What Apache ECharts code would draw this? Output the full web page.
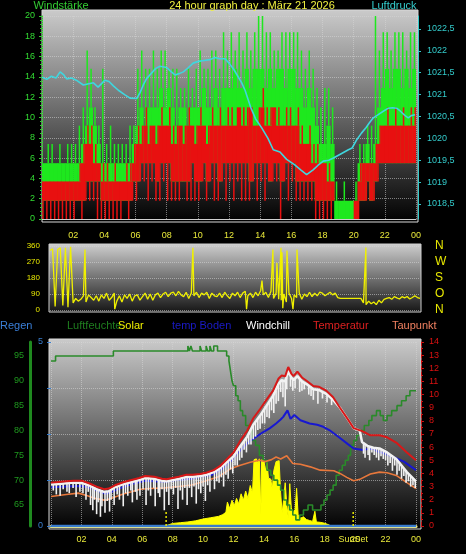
<!DOCTYPE html>
<html><head><meta charset="utf-8">
<script src="https://cdn.jsdelivr.net/npm/echarts@6/dist/echarts.min.js"></script>
<style>html,body{margin:0;padding:0;background:#000;}#c{width:466px;height:554px;}</style>
</head><body><div id="c"></div>
<script>
// ================= DATA =================
const titleText = '24 hour graph day : März 21 2026';
const hourLabels = ['00','02','04','06','08','10','12','14','16','18','20','22','00'];
const dirLetters = ['N','O','S','W','N'];
const pressTicks = [1018.5,1019,1019.5,1020,1020.5,1021,1021.5,1022,1022.5];
const humTicks = [65,70,75,80,85,90,95];
const rainLabelTicks = [0,5];
const rainTickMarks = [0,1.25,2.5,3.75,5];
const legendNames = ['Regen','Luftfeuchte','Solar','temp Boden','Windchill','Temperatur','Taupunkt'];

// wind, 15-minute slots (km/h)
const slotHours = 0.25;
const gustTop = [5.5,5.5,5.5,5.5, 5.5,5.5,5.5,5.5, 5.5,5.5,7.4,9.2, 11.0,9.2,7.4,5.5,
 5.5,5.5,5.5,5.5, 5.5,5.5,5.5,7.4, 9.2,11.0,9.2,11.0, 11.0,11.0,12.9,11.0,
 12.9,11.0,9.2,11.0, 11.0,9.2,11.0,11.0, 11.0,12.9,11.0,11.0, 12.9,11.0,12.9,12.9,
 12.9,14.8,12.9,12.9, 14.8,12.9,14.8,14.8, 14.8,12.9,14.8,12.9, 14.8,14.8,12.9,14.8,
 14.8,12.9,12.9,11.0, 12.9,11.0,9.2,7.4, 7.4,9.2,7.4,1.8, 1.8,1.8,1.8,1.8,
 1.8,5.5,5.5,7.4, 5.5,7.4,11.0,12.9, 14.8,12.9,14.8,14.8, 12.9,14.8,12.9,14.8];
const gustPeak = [5.5,7.4,7.4,5.5, 7.4,5.5,7.4,7.4, 7.4,9.2,11.0,16.6, 14.8,11.0,9.2,14.8,
 7.4,9.2,7.4,7.4, 7.4,7.4,9.2,9.2, 14.8,16.6,14.8,14.8, 16.6,14.8,16.6,16.6,
 14.8,14.8,14.8,12.9, 12.9,14.8,12.9,14.8, 16.6,14.8,14.8,16.6, 16.6,14.8,18.4,16.6,
 18.4,16.6,18.4,16.6, 18.4,16.6,18.4,20.3, 20.3,18.4,18.4,16.6, 16.6,18.4,18.4,18.4,
 18.4,18.4,16.6,14.8, 16.6,14.8,12.9,11.0, 12.9,12.9,11.0,3.7, 1.8,3.7,1.8,1.8,
 3.7,7.4,7.4,9.2, 9.2,20.3,16.6,18.4, 18.4,16.6,18.4,18.4, 18.4,16.6,18.4,18.4];
const windMin = [0,0,0,0, 0,0,0,0, 0,1.8,0,1.8, 1.8,1.8,0,0,
 0,0,0,0, 0,1.8,0,1.8, 1.8,3.7,3.7,1.8, 3.7,1.8,1.8,3.7,
 1.8,1.8,1.8,1.8, 3.7,1.8,1.8,1.8, 1.8,3.7,1.8,3.7, 1.8,1.8,3.7,1.8,
 3.7,1.8,3.7,1.8, 1.8,1.8,3.7,1.8, 3.7,1.8,3.7,3.7, 3.7,0,3.7,1.8,
 3.7,1.8,1.8,1.8, 1.8,1.8,0,0, 0,0,0,0, 0,0,0,0,
 0,0,1.8,1.8, 1.8,1.8,3.7,5.5, 5.5,5.5,5.5,5.5, 5.5,5.5,5.5,5.5];
const windBase = [1.8,1.8,1.8,1.8, 1.8,1.8,1.8,1.8, 1.8,1.8,1.8,3.7, 3.7,3.7,3.7,1.8,
 1.8,1.8,1.8,1.8, 1.8,1.8,1.8,3.7, 3.7,5.5,5.5,5.5, 5.5,3.7,5.5,5.5,
 5.5,3.7,3.7,3.7, 3.7,3.7,5.5,3.7, 3.7,5.5,3.7,5.5, 5.5,3.7,5.5,5.5,
 5.5,5.5,5.5,5.5, 5.5,3.7,5.5,5.5, 5.5,5.5,3.7,5.5, 5.5,3.7,5.5,5.5,
 5.5,3.7,3.7,3.7, 3.7,3.7,1.8,1.8, 1.8,1.8,1.8,0, 0,0,0,0,
 0,1.8,1.8,3.7, 1.8,3.7,5.5,5.5, 5.5,5.5,5.5,5.5, 5.5,5.5,5.5,5.5];
const windTop = [3.7,3.7,3.7,3.7, 3.7,3.7,3.7,3.7, 3.7,3.7,5.5,7.4, 7.4,5.5,5.5,3.7,
 3.7,3.7,3.7,3.7, 3.7,3.7,3.7,5.5, 7.4,7.4,9.2,7.4, 9.2,7.4,9.2,9.2,
 9.2,7.4,7.4,9.2, 7.4,9.2,9.2,7.4, 9.2,9.2,7.4,9.2, 9.2,9.2,9.2,9.2,
 9.2,9.2,11.0,9.2, 9.2,11.0,9.2,9.2, 11.0,9.2,9.2,11.0, 9.2,9.2,9.2,9.2,
 9.2,9.2,7.4,7.4, 7.4,5.5,5.5,5.5, 5.5,3.7,3.7,0, 0,0,0,0,
 1.8,3.7,5.5,5.5, 5.5,5.5,7.4,9.2, 9.2,9.2,9.2,9.2, 9.2,9.2,9.2,9.2];
const windPeak = [3.7,3.7,3.7,3.7, 3.7,3.7,3.7,3.7, 3.7,5.5,7.4,9.2, 9.2,7.4,5.5,5.5,
 5.5,3.7,5.5,3.7, 3.7,5.5,5.5,7.4, 9.2,9.2,11.0,9.2, 9.2,9.2,11.0,9.2,
 11.0,9.2,9.2,9.2, 9.2,11.0,9.2,9.2, 11.0,9.2,9.2,11.0, 9.2,11.0,9.2,11.0,
 11.0,9.2,11.0,11.0, 11.0,11.0,9.2,11.0, 12.9,11.0,11.0,11.0, 11.0,9.2,11.0,11.0,
 9.2,11.0,9.2,7.4, 9.2,7.4,7.4,5.5, 5.5,5.5,3.7,0, 0,0,0,0,
 1.8,5.5,5.5,5.5, 5.5,7.4,9.2,9.2, 11.0,9.2,11.0,9.2, 11.0,9.2,11.0,11.0];

// pressure [hour, hPa]
const pressure = [[0,1021.4],[0.3,1021.35],[0.6,1021.42],[0.9,1021.38],[1.16,1021.52],[1.4,1021.45],[1.58,1021.36],[1.9,1021.38],[2.2,1021.33],[2.65,1021.22],[3.0,1021.25],[3.3,1021.27],[3.6,1021.17],[4.04,1021.33],[4.3,1021.3],[4.58,1021.2],[4.9,1021.1],[5.3,1021.0],[5.65,1020.92],[6.08,1020.91],[6.3,1021.05],[6.5,1021.22],[6.72,1021.37],[7.0,1021.48],[7.3,1021.6],[7.57,1021.65],[8.0,1021.62],[8.3,1021.52],[8.54,1021.45],[8.8,1021.48],[9.07,1021.52],[9.4,1021.62],[9.7,1021.72],[10.03,1021.76],[10.4,1021.78],[10.78,1021.8],[11.1,1021.85],[11.4,1021.82],[11.75,1021.82],[12.0,1021.72],[12.3,1021.58],[12.5,1021.46],[12.8,1021.28],[13.03,1021.1],[13.4,1020.7],[13.7,1020.45],[14.1,1020.24],[14.5,1020.0],[14.84,1019.74],[15.27,1019.69],[15.7,1019.52],[16.2,1019.4],[16.6,1019.28],[16.98,1019.17],[17.4,1019.28],[17.7,1019.38],[18.05,1019.48],[18.4,1019.5],[18.7,1019.55],[19.2,1019.65],[19.66,1019.74],[19.9,1019.78],[20.2,1019.97],[20.5,1020.12],[20.8,1020.25],[21.0,1020.35],[21.26,1020.47],[21.6,1020.55],[21.9,1020.62],[22.23,1020.69],[22.5,1020.7],[22.76,1020.69],[23.0,1020.62],[23.3,1020.52],[23.5,1020.47],[23.7,1020.52],[23.94,1020.54]];

// wind direction, 10-minute values (deg) + short spikes [hour, deg]
const dirStep = 1/6;
const dirBase = [335,345,20,340,350,25, 350,15,355,40,65,50, 60,80,45,85,70,55, 80,50,85,65,95,55,
 70,95,50,80,45,85, 65,90,50,80,85,55, 75,95,60,90,55,85, 95,70,90,100,75,95,
 100,80,105,85,75,100, 65,95,80,100,70,95, 85,100,65,95,80,75, 95,70,100,80,65,95,
 80,100,70,95,105,80, 95,70,100,80,110,85, 100,70,105,65,95,60, 55,90,45,95,65,85,
 70,95,60,90,75,100, 75,95,80,100,95,80, 90,100,85,95,70,65, 65,65,65,65,65,65,
 65,65,40,30,50,35, 45,30,55,40,60,65, 70,60,75,68,62,75, 68,76,62,70,80,70, 65];
const dirSpikes = [[2.27,340],[4.2,5],[9.27,350],[12.75,5],[13.75,165],[14.46,340],[14.72,265],[14.98,350],[15.05,325],[15.1,10],[15.37,335],[15.76,5],[16.02,340],[20.49,352]];

// bottom panel
const rain = [[0,0],[24,0]];
const humidity = [[0,94],[0.3,95],[4.1,96],[9.0,97],[9.1,96],[9.2,97],[9.3,96],[9.8,97],[9.9,96],[10.2,97],[10.3,96],[10.45,97],[10.55,96],[10.7,97],[10.95,96],[11.55,95],[11.7,94],[11.8,92],[11.9,90],[12.0,89],[12.15,87],[12.3,86],[12.45,84],[12.6,83],[12.8,81],[13.0,80],[13.2,78],[13.45,77],[13.7,75],[13.95,74],[14.2,72],[14.45,71],[14.65,70],[14.9,69],[15.1,68],[15.3,66],[15.5,65],[15.7,64],[15.9,63],[16.1,62],[16.35,63],[16.6,64],[16.9,65],[17.2,64],[17.5,64],[17.75,65],[17.95,66],[18.15,67],[18.35,68],[18.55,69],[18.75,71],[18.95,72],[19.15,73],[19.35,74],[19.55,75],[19.7,77],[19.9,78],[20.1,79],[20.3,80],[20.6,81],[20.9,82],[21.1,83],[21.4,84],[21.65,83],[21.85,82],[22.1,83],[22.4,84],[22.75,85],[23.05,86],[23.35,87],[23.6,88],[24,88]];
const solar = [[7.5,0],[7.6,8],[8.0,14],[8.5,18],[9.0,22],[9.5,28],[10.0,38],[10.5,45],[11.0,52],[11.3,62],[11.5,75],[11.6,130],[11.75,95],[11.9,140],[12.05,110],[12.2,150],[12.35,120],[12.5,175],[12.65,140],[12.8,190],[12.95,150],[13.1,220],[13.25,180],[13.35,360],[13.5,365],[13.6,340],[13.7,365],[13.8,60],[13.85,360],[14.0,355],[14.1,300],[14.2,345],[14.3,260],[14.45,255],[14.55,200],[14.65,300],[14.8,350],[15.0,355],[15.1,180],[15.2,70],[15.3,150],[15.4,235],[15.5,120],[15.6,45],[15.7,230],[15.8,100],[15.9,70],[16.05,90],[16.15,205],[16.25,60],[16.4,42],[16.6,50],[16.8,35],[17.0,30],[17.2,25],[17.35,80],[17.45,22],[17.7,20],[18.0,15],[18.3,5],[18.4,0]];
const temperature = [[0,3.3],[0.5,3.35],[1.0,3.4],[1.5,3.45],[2.0,3.45],[2.5,3.25],[3.0,3.0],[3.5,2.8],[3.8,2.85],[4.2,3.1],[4.8,3.35],[5.3,3.5],[5.8,3.65],[6.2,3.8],[6.8,3.75],[7.3,3.6],[7.6,3.55],[8.0,3.65],[8.4,3.75],[8.9,3.9],[9.3,3.9],[9.8,3.95],[10.2,4.05],[10.7,4.25],[11.1,4.55],[11.5,5.0],[12.0,5.6],[12.4,6.4],[12.9,7.25],[13.3,8.2],[13.75,8.9],[14.2,9.65],[14.6,10.3],[14.95,11.2],[15.17,11.45],[15.4,11.4],[15.6,12.1],[15.8,11.6],[15.95,11.4],[16.2,11.75],[16.5,11.3],[16.8,11.05],[17.25,10.65],[17.6,10.6],[18.1,10.3],[18.55,9.8],[19.0,9.0],[19.5,8.15],[19.9,7.45],[20.5,7.2],[21.0,6.9],[21.6,6.9],[22.1,6.75],[22.7,6.35],[23.4,5.6],[24,5.0]];
const groundTemp = [[0,2.95],[1.0,3.0],[2.0,3.05],[2.6,2.9],[3.2,2.6],[3.6,2.45],[4.0,2.6],[4.6,2.9],[5.3,3.2],[6.2,3.45],[6.8,3.4],[7.5,3.35],[8.3,3.5],[9.25,3.6],[9.8,3.75],[10.6,3.9],[11.2,4.3],[11.8,4.9],[12.4,5.7],[12.9,6.3],[13.3,6.65],[13.96,7.15],[14.4,7.45],[14.8,7.8],[15.1,8.1],[15.27,8.3],[15.4,8.15],[15.55,8.8],[15.75,8.15],[16.0,8.45],[16.4,8.05],[17.0,7.8],[17.5,7.7],[17.9,7.55],[18.3,7.3],[19.0,6.7],[19.5,6.25],[19.9,5.9],[20.5,5.78],[20.8,5.85],[21.2,5.85],[21.5,5.65],[21.85,5.55],[22.5,5.25],[23.2,4.9],[24,4.25]];
const dewPoint = [[0,2.25],[1.0,2.4],[1.8,2.5],[2.4,2.3],[2.9,2.1],[3.6,1.95],[4.2,2.2],[4.8,2.45],[5.3,2.6],[5.85,2.8],[6.5,2.85],[7.5,2.9],[8.4,3.0],[9.25,3.12],[10.1,3.4],[11.0,3.75],[11.8,4.35],[12.4,4.6],[13.1,4.85],[13.7,5.0],[14.1,4.9],[14.5,5.05],[14.8,5.25],[15.1,5.1],[15.5,5.35],[15.9,4.75],[16.4,4.7],[17.05,4.5],[17.7,4.25],[18.6,4.2],[19.0,4.0],[19.45,3.7],[19.9,3.45],[20.3,3.55],[21.0,3.95],[21.6,4.1],[22.1,4.05],[22.7,3.85],[23.4,3.3],[24,2.85]];
// windchill: upper trace [hour, °C] and short downward gust dips [hour, from, to]
const chillUpper = [[0,3.15],[0.5,3.2],[1.0,3.25],[1.5,3.3],[2.0,3.3],[2.5,3.1],[3.0,2.8],[3.5,2.6],[3.8,2.65],[4.2,2.95],[4.8,3.2],[5.3,3.35],[5.8,3.5],[6.2,3.65],[6.8,3.6],[7.3,3.45],[7.6,3.4],[8.0,3.5],[8.4,3.6],[8.9,3.75],[9.3,3.75],[9.8,3.8],[10.2,3.9],[10.7,4.1],[11.1,4.4],[11.5,4.8],[12.0,5.3],[12.4,6.0],[12.9,6.8],[13.3,7.7],[13.75,8.4],[14.2,9.2],[14.6,9.9],[14.95,10.8],[15.17,11.1],[15.4,11.0],[15.6,11.8],[15.8,11.3],[15.95,11.1],[16.2,11.4],[16.5,11.0],[16.8,10.8],[17.25,10.4],[17.6,10.35],[18.1,10.05],[18.55,9.6],[19.0,9.0],[19.5,8.15],[19.9,7.45],[20.3,7.25],[20.45,6.4],[20.8,6.1],[21.2,5.95],[21.6,5.9],[22.1,5.6],[22.7,5.1],[23.4,4.1],[24,3.4]];
const chillDips = [[0.15,3.15,2.7],[0.35,3.2,2.4],[0.6,3.2,2.3],[0.8,3.2,2.8],[1.05,3.25,2.6],[1.2,3.25,2.5],[1.45,3.3,2.9],[1.65,3.3,2.2],[1.9,3.3,2.6],[2.1,3.3,2.5],[2.3,3.2,2.0],[2.45,3.1,2.6],
 [2.6,3.05,1.6],[2.75,3.0,1.2],[2.85,2.95,2.0],[3.0,2.8,0.9],[3.1,2.75,1.8],[3.25,2.7,0.7],[3.35,2.65,1.5],[3.55,2.6,1.0],[3.7,2.6,1.9],[3.85,2.65,1.1],[3.95,2.75,2.0],
 [4.15,2.9,1.6],[4.35,3.0,2.4],[4.5,3.05,2.0],[4.75,3.15,1.5],[4.9,3.2,2.5],[5.05,3.25,2.3],[5.25,3.3,2.7],[5.35,3.35,1.8],[5.55,3.4,2.6],[5.65,3.45,2.0],[5.85,3.5,2.3],
 [6.05,3.6,2.8],[6.25,3.65,1.6],[6.4,3.65,2.7],[6.55,3.6,2.3],[6.75,3.6,2.9],[6.85,3.55,1.5],[7.05,3.5,2.5],[7.15,3.5,2.2],[7.3,3.45,2.8],[7.45,3.4,1.2],
 [7.6,3.4,2.6],[7.75,3.45,1.6],[7.9,3.5,2.8],[8.05,3.5,2.4],[8.2,3.55,2.9],[8.35,3.6,1.3],[8.5,3.65,2.7],[8.65,3.7,2.0],[8.8,3.75,2.9],[8.95,3.75,1.6],
 [9.1,3.75,2.9],[9.25,3.75,2.2],[9.4,3.8,3.0],[9.55,3.8,1.7],[9.7,3.8,2.8],[9.85,3.8,2.5],[10.0,3.85,3.0],[10.15,3.9,1.9],[10.3,3.95,3.1],[10.45,4.0,2.6],
 [10.75,4.1,2.8],[10.9,4.2,3.4],[11.05,4.35,3.3],[11.2,4.45,3.7],[11.35,4.6,3.0],[11.5,4.8,3.9],[11.65,4.95,3.6],[11.8,5.1,4.3],[11.95,5.25,4.0],
 [12.1,5.4,4.6],[12.25,5.7,4.6],[12.4,6.0,5.0],[12.55,6.25,5.2],[12.7,6.5,5.8],[12.85,6.75,5.6],[13.0,7.0,6.2],[13.15,7.3,6.2],[13.3,7.7,6.6],[13.45,7.9,6.8],[13.6,8.15,7.3],[13.75,8.4,7.4],[13.9,8.65,7.8],[14.05,8.9,7.8],[14.2,9.2,8.3],[14.35,9.45,8.2],[14.5,9.7,8.8],[14.65,9.95,8.6],[14.8,10.3,9.3],[14.95,10.8,9.5],[15.1,11.0,10.2],[15.25,11.1,9.8],[15.4,11.0,9.1],[15.5,11.3,10.4],[15.75,11.3,10.6],[15.9,11.1,10.3],[16.05,11.2,10.5],[16.35,11.2,10.2],[16.5,11.0,10.3],[16.65,10.9,10.4],[16.95,10.7,10.0],[17.1,10.6,9.9],[17.25,10.4,9.6],[17.55,10.35,9.3],[17.85,10.2,9.7],[18.15,10.0,9.4],[18.45,9.7,9.2],
 [20.55,6.3,5.5],[20.65,6.2,5.2],[20.85,6.1,5.4],[20.95,6.05,5.0],[21.1,6.0,5.6],[21.25,5.95,5.4],[21.4,5.95,5.2],[21.55,5.9,5.0],[21.7,5.85,5.3],[21.85,5.75,5.1],[22.0,5.65,5.0],[22.15,5.55,4.6],[22.3,5.45,4.8],[22.45,5.3,4.2],[22.6,5.15,4.6],[22.75,5.0,3.9],[22.9,4.85,4.2],[23.05,4.6,3.6],[23.2,4.4,3.8],[23.35,4.15,3.3],[23.5,3.95,3.4],[23.65,3.8,3.0],[23.8,3.6,3.1],[23.95,3.45,2.9]];
const sunTimes = [7.57, 19.87];
const sunLabels = ['', 'SunSet'];

// ================= STYLE =================
const FN = "'Liberation Sans Narrow','Liberation Sans',Arial,sans-serif";
const FR = "'Liberation Sans',Arial,sans-serif";
const GRIDC = 'rgba(215,215,215,0.55)';
const C = {gust:'#1ee81e', wind:'#e81010', press:'#3fd6de', dir:'#f0f000',
  rain:'#3a7ccc', hum:'#2a8a2a', solar:'#ffff00', ground:'#1818d0', chill:'#f2f2f2', temp:'#d81818', dew:'#e8783c'};
const legendColors = ['#3a7fd8','#1f7f1f','#f0f000','#1a1ac8','#ffffff','#dd2020','#f08060'];
const legendX = [0,67,118,172,246,313,392];

const windRows = gustTop.map((g,i)=>[i*slotHours, g, gustPeak[i], windMin[i], windBase[i], windTop[i], windPeak[i]]);
const dirData = dirBase.map((v,i)=>[i*dirStep, v]).concat(dirSpikes).sort((a,b)=>a[0]-b[0]);
const hourFmt = v => (v === 0 ? '' : hourLabels[Math.round(v/2)]);

function gustRender(params, api) {
  const t = api.value(0);
  const x0 = api.coord([t, 0])[0], x1 = api.coord([t + slotHours, 0])[0];
  const y = v => api.coord([t, v])[1];
  const w = x1 - x0;
  const top = api.value(1), peak = api.value(2), base = api.value(4);
  const xs = x0 + w * 0.6;
  return {type:'group', children:[
    {type:'rect', shape:{x:x0, y:y(top), width:w+0.4, height:y(base)-y(top)}, style:{fill:C.gust}},
    {type:'line', shape:{x1:xs, y1:y(top), x2:xs, y2:y(peak)}, style:{stroke:C.gust, lineWidth:1.5}}
  ]};
}
function windRender(params, api) {
  const t = api.value(0);
  const x0 = api.coord([t, 0])[0], x1 = api.coord([t + slotHours, 0])[0];
  const y = v => api.coord([t, v])[1];
  const w = x1 - x0;
  const mn = api.value(3), base = api.value(4), top = api.value(5), peak = api.value(6);
  const kids = [];
  if (top > base) kids.push({type:'rect', shape:{x:x0, y:y(top), width:w+0.4, height:y(base)-y(top)}, style:{fill:C.wind}});
  const xa = x0 + w * 0.25, xb = x0 + w * 0.8;
  kids.push({type:'line', shape:{x1:xa, y1:y(base), x2:xa, y2:y(mn)}, style:{stroke:C.wind, lineWidth:1.5}});
  kids.push({type:'line', shape:{x1:xb, y1:y(top), x2:xb, y2:y(peak)}, style:{stroke:C.wind, lineWidth:1.5}});
  return {type:'group', children:kids};
}
function dipRender(params, api) {
  const a = api.coord([api.value(0), api.value(1)]);
  const b = api.coord([api.value(0), api.value(2)]);
  return {type:'line', shape:{x1:a[0], y1:a[1], x2:b[0], y2:b[1]}, style:{stroke:C.chill, lineWidth:1.6}};
}
function sunRender(params, api) {
  const p = api.coord([api.value(0), 0]);
  const lab = sunLabels[params.dataIndex];
  return {type:'group', children:[
    {type:'line', shape:{x1:p[0], y1:p[1], x2:p[0], y2:p[1]-15}, style:{stroke:'#e8e800', lineWidth:1.5, lineDash:[2,2]}},
    {type:'text', style:{text:lab, x:p[0], y:p[1]+14, align:'center', verticalAlign:'middle', textAlign:'center', textVerticalAlign:'middle', fill:'#e8e83a', font:'9px ' + FN}}
  ]};
}

const bgGrad = (a, b) => ({type:'linear', x:0, y:0, x2:0, y2:1, colorStops:[{offset:0,color:a},{offset:1,color:b}]});
const graphics = [
  {type:'rect', z:-10, shape:{x:42, y:10, width:376, height:212}, style:{fill:bgGrad('#cbcbcb','#000000'), stroke:'#d8d8d8', lineWidth:1}},
  {type:'rect', z:-10, shape:{x:49, y:244, width:372, height:68}, style:{fill:bgGrad('#cfcfcf','#151515'), stroke:'#cfcfcf', lineWidth:1}},
  {type:'rect', z:-10, shape:{x:49, y:339, width:372, height:190}, style:{fill:bgGrad('#cbcbcb','#000000'), stroke:'#d8d8d8', lineWidth:1}},
  {type:'text', z:50, x:252, y:6, style:{text:titleText, fill:'#f0f040', font:'11px ' + FR, align:'center', verticalAlign:'middle', textAlign:'center', textVerticalAlign:'middle'}},
  {type:'text', z:50, x:61, y:6, style:{text:'Windstärke', fill:'#33cc33', font:'11px ' + FR, align:'center', verticalAlign:'middle', textAlign:'center', textVerticalAlign:'middle'}},
  {type:'text', z:50, x:394, y:6, style:{text:'Luftdruck', fill:'#33cccc', font:'11px ' + FR, align:'center', verticalAlign:'middle', textAlign:'center', textVerticalAlign:'middle'}}
];
legendNames.forEach((n,i)=>graphics.push({type:'text', z:50, x:legendX[i], y:326,
  style:{text:n, fill:legendColors[i], font:'11px ' + FR, align:'left', verticalAlign:'middle', textAlign:'left', textVerticalAlign:'middle'}}));

const chart = echarts.init(document.getElementById('c'), null, {renderer:'canvas'});
chart.setOption({
  backgroundColor:'#000',
  animation:false,
  graphic: graphics,
  grid:[
    {left:42, top:16, width:374, height:203, outerBoundsMode:'none'},
    {left:50, top:246, width:370, height:64, outerBoundsMode:'none'},
    {left:51, top:342, width:365, height:184, outerBoundsMode:'none'}
  ],
  xAxis:[
    {gridIndex:0, type:'value', min:0, max:24, interval:2, offset:3,
     axisLine:{show:true, lineStyle:{color:'#d0d0d0'}}, axisTick:{show:false},
     axisLabel:{color:'#e8e83a', fontSize:9, fontFamily:FN, margin:9, formatter:hourFmt},
     splitLine:{show:true, lineStyle:{type:'dotted', color:GRIDC}}},
    {gridIndex:1, type:'value', min:0, max:24, show:false, splitLine:{show:false}},
    {gridIndex:2, type:'value', min:0, max:24, interval:2, offset:2,
     axisLine:{show:true, lineStyle:{color:'#e6e68a', width:3}}, axisTick:{show:false},
     axisLabel:{color:'#e8e83a', fontSize:9, fontFamily:FN, margin:7, formatter:hourFmt},
     splitLine:{show:true, lineStyle:{type:'dotted', color:GRIDC}}}
  ],
  yAxis:[
    {gridIndex:0, type:'value', position:'left', min:0, max:20, interval:2,
     axisLine:{show:true, lineStyle:{color:'#33cc33', type:'dotted'}},
     axisTick:{show:true, length:3, lineStyle:{color:'#33cc33'}},
     minorTick:{show:true, splitNumber:5, length:2, lineStyle:{color:'#33cc33'}},
     axisLabel:{color:'#33dd33', fontSize:9, fontFamily:FN, margin:7},
     splitLine:{show:true, lineStyle:{type:'dotted', color:GRIDC}}},
    {gridIndex:0, type:'value', position:'right', min:1018.157, max:1022.797, offset:2,
     axisLine:{show:true, lineStyle:{color:'#33cccc'}},
     axisTick:{show:true, length:3, customValues:pressTicks, lineStyle:{color:'#33cccc'}},
     axisLabel:{customValues:pressTicks, color:'#33cccc', fontSize:9, fontFamily:FN, margin:9,
       formatter:v=>String(Math.round(v*10)/10).replace('.',',')},
     splitLine:{show:false}},
    {gridIndex:1, type:'value', position:'left', min:0, max:360, interval:90,
     axisLine:{show:false}, axisTick:{show:false},
     axisLabel:{color:'#e8e800', fontSize:8, fontFamily:FN, margin:10},
     splitLine:{show:true, lineStyle:{type:'dotted', color:GRIDC}}},
    {gridIndex:1, type:'value', position:'right', min:0, max:360, interval:90,
     axisLine:{show:false}, axisTick:{show:false},
     axisLabel:{color:'#e8e800', fontSize:12, fontFamily:FN, margin:15, formatter:v=>dirLetters[Math.round(v/90)]},
     splitLine:{show:false}},
    {gridIndex:2, type:'value', position:'left', min:0, max:5, interval:0.5, offset:3,
     axisLine:{show:false},
     axisTick:{show:true, length:4, customValues:rainTickMarks, lineStyle:{color:'#3a7fd0'}},
     axisLabel:{customValues:rainLabelTicks, color:'#3a7fd0', fontSize:9, fontFamily:FN, margin:5},
     splitLine:{show:true, lineStyle:{type:'dotted', color:GRIDC}}},
    {gridIndex:2, type:'value', position:'left', min:60.77, max:97.82, offset:21,
     axisLine:{show:true, lineStyle:{color:'#1f8a1f', width:3}}, axisTick:{show:false},
     axisLabel:{customValues:humTicks, color:'#1f9a1f', fontSize:9, fontFamily:FN, margin:6},
     splitLine:{show:false}},
    {gridIndex:2, type:'value', position:'right', min:0, max:14, interval:1, offset:5,
     axisLine:{show:true, lineStyle:{color:'#cc1111', type:'dashed'}},
     axisTick:{show:true, length:3, lineStyle:{color:'#cc1111'}},
     minorTick:{show:true, splitNumber:2, length:2, lineStyle:{color:'#cc1111'}},
     axisLabel:{color:'#dd1111', fontSize:9, fontFamily:FN, margin:8},
     splitLine:{show:false}},
    {gridIndex:2, type:'value', min:0, max:1000, show:false, splitLine:{show:false}}
  ],
  series:[
    {type:'custom', name:'Böen', xAxisIndex:0, yAxisIndex:0, renderItem:gustRender, data:windRows, clip:true, z:2},
    {type:'custom', name:'Wind', xAxisIndex:0, yAxisIndex:0, renderItem:windRender, data:windRows, clip:true, z:3},
    {type:'line', name:'Luftdruck', xAxisIndex:0, yAxisIndex:1, data:pressure, showSymbol:false, lineStyle:{color:C.press, width:1.6}, z:5},
    {type:'line', name:'Windrichtung', xAxisIndex:1, yAxisIndex:2, data:dirData, showSymbol:false, lineStyle:{color:C.dir, width:1.3}, z:5},
    {type:'line', name:'Solar', xAxisIndex:2, yAxisIndex:7, data:solar, showSymbol:false, lineStyle:{color:C.solar, width:1}, areaStyle:{color:C.solar, opacity:1}, z:2},
    {type:'line', name:'Regen', xAxisIndex:2, yAxisIndex:4, data:rain, showSymbol:false, lineStyle:{color:C.rain, width:2.5}, z:3},
    {type:'line', name:'Luftfeuchte', xAxisIndex:2, yAxisIndex:5, data:humidity, step:'end', showSymbol:false, lineStyle:{color:C.hum, width:1.6}, z:4},
    {type:'line', name:'Taupunkt', xAxisIndex:2, yAxisIndex:6, data:dewPoint, showSymbol:false, lineStyle:{color:C.dew, width:1.6}, z:5},
    {type:'line', name:'temp Boden', xAxisIndex:2, yAxisIndex:6, data:groundTemp, showSymbol:false, lineStyle:{color:C.ground, width:2}, z:6},
    {type:'line', name:'Windchill', xAxisIndex:2, yAxisIndex:6, data:chillUpper, showSymbol:false, lineStyle:{color:C.chill, width:2.5}, z:7},
    {type:'custom', name:'Windchill Böen', xAxisIndex:2, yAxisIndex:6, renderItem:dipRender, data:chillDips, clip:true, z:7},
    {type:'line', name:'Temperatur', xAxisIndex:2, yAxisIndex:6, data:temperature, showSymbol:false, lineStyle:{color:C.temp, width:2}, z:8},
    {type:'custom', name:'Sonne', xAxisIndex:2, yAxisIndex:4, renderItem:sunRender, data:sunTimes.map(t=>[t,0]), clip:false, z:9}
  ]
});
</script>
</body></html>
